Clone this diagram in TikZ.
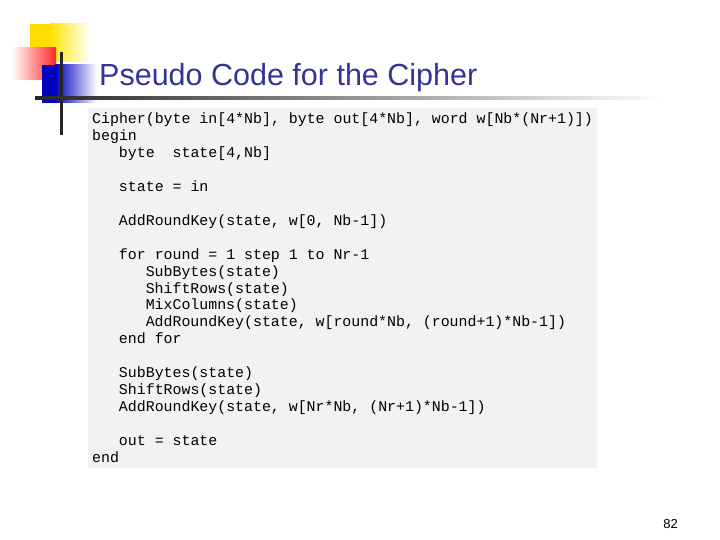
\documentclass[tikz,border=0pt]{standalone}
\usepackage{fontspec}
\setmainfont{Liberation Sans}
\setmonofont{Liberation Mono}
\definecolor{titleblue}{HTML}{333399}
\definecolor{codebg}{HTML}{F2F2F2}
\begin{document}
\begin{tikzpicture}[x=1pt,y=-1pt,
  codeline/.style={anchor=base west,inner sep=0pt,font=\fontsize{14.9}{15}\selectfont\ttfamily}]
\useasboundingbox (0,0) rectangle (720,540);
\fill[white] (0,0) rectangle (720,540);
% decoration
\shade[left color=yellow!80!orange,right color=white] (50,24) rectangle (90,62);
\fill[yellow!80!orange] (30,24) rectangle (50,62);
\shade[left color=white,right color=red!85] (12,48) rectangle (56,80);
\shade[left color=blue!75!black,right color=white] (55,65) rectangle (97,103);
\fill[blue!75!black] (42,65) rectangle (55,103);
\draw[line width=3pt,black!85] (61,52) -- (61,135);
\shade[left color=black!85,right color=white] (35,96.5) rectangle (665,99.5);
\node[anchor=base west,inner sep=0pt,text=titleblue,font=\fontsize{30.5}{32}\selectfont] (title) at (99,86) {Pseudo Code for the Cipher};
\fill[codebg] (88,108) rectangle (597,468);
\foreach \i/\ind/\t in {0/0/{Cipher(byte in[4*Nb], byte out[4*Nb], word w[Nb*(Nr+1)])},
 1/0/{begin}, 2/3/{byte\ \ state[4,Nb]}, 4/3/{state = in}, 6/3/{AddRoundKey(state, w[0, Nb-1])},
 8/3/{for round = 1 step 1 to Nr-1}, 9/6/{SubBytes(state)}, 10/6/{ShiftRows(state)},
 11/6/{MixColumns(state)}, 12/6/{AddRoundKey(state, w[round*Nb, (round+1)*Nb-1])},
 13/3/{end for}, 15/3/{SubBytes(state)}, 16/3/{ShiftRows(state)},
 17/3/{AddRoundKey(state, w[Nr*Nb, (Nr+1)*Nb-1])}, 19/3/{out = state}, 20/0/{end}}
  \node[codeline] (l\i) at ({92+\ind*8.93},{124+\i*16.9}) {\t};
\node[anchor=base east,inner sep=0pt,font=\fontsize{13}{15}\selectfont] (pg) at (678,528) {82};
\end{tikzpicture}
\end{document}
